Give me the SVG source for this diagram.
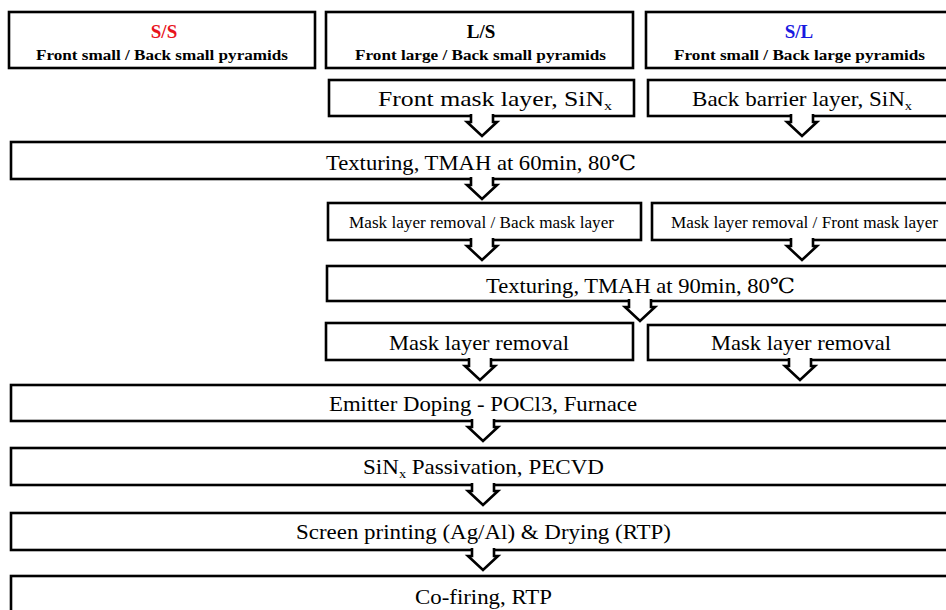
<svg xmlns="http://www.w3.org/2000/svg" width="946" height="610" viewBox="0 0 946 610" font-family="'Liberation Serif', 'DejaVu Serif', serif">
<style>
.box{fill:#fff;stroke:#000;stroke-width:2.6}
.arr{fill:#fff;stroke:#000;stroke-width:2.6;stroke-linejoin:miter}
.t{font-family:"Liberation Serif","DejaVu Serif",serif;fill:#000}
.h{font-weight:bold;font-size:19px;text-anchor:middle}
.s{font-weight:bold;font-size:15px}
.m{font-size:21px}
.sm{font-size:16px}
.sub{font-size:13px}
</style>
<rect width="946" height="610" fill="#fff"/>
<g id="n-ss"><rect class="box" x="9" y="12" width="306" height="56"/><text class="t h" x="164" y="38" style="fill:#e8141c">S/S</text><text class="t s" x="36" y="60" textLength="252" lengthAdjust="spacingAndGlyphs">Front small / Back small pyramids</text></g>
<g id="n-ls"><rect class="box" x="326" y="12" width="307" height="56"/><text class="t h" x="481" y="38">L/S</text><text class="t s" x="355" y="60" textLength="251" lengthAdjust="spacingAndGlyphs">Front large / Back small pyramids</text></g>
<g id="n-sl"><rect class="box" x="646" y="12" width="314" height="56"/><text class="t h" x="799" y="38" style="fill:#1a1ae0">S/L</text><text class="t s" x="674" y="60" textLength="251" lengthAdjust="spacingAndGlyphs">Front small / Back large pyramids</text></g>
<g id="n-frontmask"><rect class="box" x="329" y="80" width="305" height="36"/><text class="t m" x="378" y="106" textLength="234" lengthAdjust="spacingAndGlyphs">Front mask layer, SiN<tspan class="sub" dy="4">x</tspan></text></g>
<g id="n-backbarrier"><rect class="box" x="648" y="80" width="312" height="36"/><text class="t m" x="692" y="106" textLength="220" lengthAdjust="spacingAndGlyphs">Back barrier layer, SiN<tspan class="sub" dy="4">x</tspan></text></g>
<g id="n-tex60"><rect class="box" x="11" y="142" width="949" height="37"/><text class="t m" x="326" y="170" textLength="310" lengthAdjust="spacingAndGlyphs">Texturing, TMAH at 60min, 80℃</text></g>
<g id="n-mrback"><rect class="box" x="328" y="203" width="313" height="37"/><text class="t sm" x="349" y="228" textLength="265" lengthAdjust="spacingAndGlyphs">Mask layer removal / Back mask layer</text></g>
<g id="n-mrfront"><rect class="box" x="652" y="203" width="308" height="37"/><text class="t sm" x="671" y="228" textLength="267" lengthAdjust="spacingAndGlyphs">Mask layer removal / Front mask layer</text></g>
<g id="n-tex90"><rect class="box" x="327" y="266" width="633" height="35"/><text class="t m" x="486" y="293" textLength="309" lengthAdjust="spacingAndGlyphs">Texturing, TMAH at 90min, 80℃</text></g>
<g id="n-mr1"><rect class="box" x="326" y="323" width="307" height="37"/><text class="t m" x="389" y="350" textLength="180" lengthAdjust="spacingAndGlyphs">Mask layer removal</text></g>
<g id="n-mr2"><rect class="box" x="648" y="325" width="312" height="35"/><text class="t m" x="711" y="350" textLength="180" lengthAdjust="spacingAndGlyphs">Mask layer removal</text></g>
<g id="n-emitter"><rect class="box" x="11" y="385" width="949" height="36"/><text class="t m" x="329" y="411" textLength="308" lengthAdjust="spacingAndGlyphs">Emitter Doping - POCl3, Furnace</text></g>
<g id="n-sinx"><rect class="box" x="11" y="448" width="949" height="37"/><text class="t m" x="363" y="474" textLength="241" lengthAdjust="spacingAndGlyphs">SiN<tspan class="sub" dy="4">x</tspan><tspan dy="-4">  Passivation, PECVD</tspan></text></g>
<g id="n-screen"><rect class="box" x="11" y="513" width="949" height="37"/><text class="t m" x="296" y="539" textLength="375" lengthAdjust="spacingAndGlyphs">Screen printing (Ag/Al) &amp; Drying (RTP)</text></g>
<g id="n-cofiring"><rect class="box" x="11" y="576" width="949" height="50"/><text class="t m" x="415" y="604" textLength="137" lengthAdjust="spacingAndGlyphs">Co-firing, RTP</text></g>
<g id="connectors">
<path class="arr" d="M471,114 V122 H467 L482,136 L497,122 H493 V114"/>
<path class="arr" d="M791,114 V122 H787 L802,136 L817,122 H813 V114"/>
<path class="arr" d="M471,177 V185 H467 L482,199 L497,185 H493 V177"/>
<path class="arr" d="M471,238 V246 H467 L482,260 L497,246 H493 V238"/>
<path class="arr" d="M791,238 V246 H787 L802,260 L817,246 H813 V238"/>
<path class="arr" d="M629,299 V307 H625 L640,321 L655,307 H651 V299"/>
<path class="arr" d="M469,358 V366 H465 L480,380 L495,366 H491 V358"/>
<path class="arr" d="M789,358 V366 H785 L800,380 L815,366 H811 V358"/>
<path class="arr" d="M472,419 V427 H468 L483,441 L498,427 H494 V419"/>
<path class="arr" d="M472,483 V491 H468 L483,505 L498,491 H494 V483"/>
<path class="arr" d="M472,548 V556 H468 L483,570 L498,556 H494 V548"/>
</g>
</svg>
